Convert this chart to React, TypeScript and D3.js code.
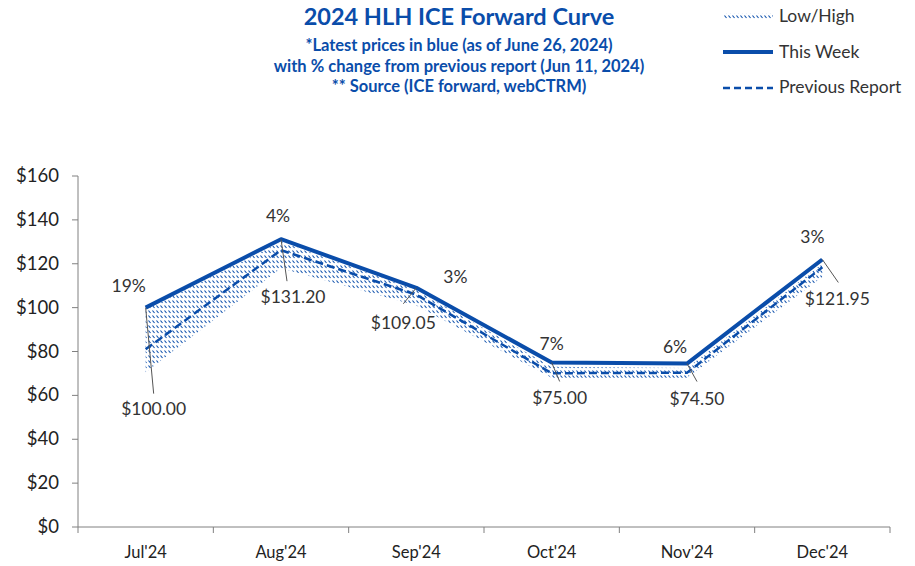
import React from "react";
import * as d3 from "d3";

const categories = ["Jul'24", "Aug'24", "Sep'24", "Oct'24", "Nov'24", "Dec'24"];
const thisWeek = [100, 131.2, 109.05, 75, 74.5, 121.95];
const previousReport = [81, 126.2, 105.9, 70.1, 70.3, 118.4];
const lowValues = [70.5, 118, 101, 68, 68, 114];
const highValues = [99, 130, 108, 73, 72.5, 120];
const pctLabels = ["19%", "4%", "3%", "7%", "6%", "3%"];
const priceLabels = ["$100.00", "$131.20", "$109.05", "$75.00", "$74.50", "$121.95"];
const yTicks = [0, 20, 40, 60, 80, 100, 120, 140, 160];

// label offsets relative to point [dx, dy] for pct and price, leader end
const pctOff = [[-17, -16], [-3, -17], [39, -5], [0, -12], [-12, -11], [-10, -16]];
const priceOff = [[8, 107], [12, 64], [-13, 41], [8, 42], [10, 41], [15, 46]];
const leaderEnd = [[8, 86], [6, 42], [-13, 16], [8, 19], [10, 18], [16, 23]];

const BLUE = "#0A4DAA";
const FONT = "Lato, 'Open Sans', sans-serif";

export default function App() {
  const W = 915, H = 566;
  const left = 78, right = 890, top = 176, bottom = 527;
  const x = d3.scaleBand<string>().domain(categories).range([left, right]);
  const y = d3.scaleLinear().domain([0, 160]).range([bottom, top]);
  const cx = (i: number) => (x(categories[i]) as number) + x.bandwidth() / 2;

  const line = d3.line<number>().x((_, i) => cx(i)).y((d) => y(d));
  const area = d3
    .area<number>()
    .x((_, i) => cx(i))
    .y0((_, i) => y(lowValues[i]))
    .y1((d) => y(d));

  return (
    <svg width={W} height={H} style={{ position: "absolute", left: 0, top: 0, background: "#fff" }} fontFamily={FONT}>
      <defs>
        <pattern id="hatch" width="4" height="5" patternUnits="userSpaceOnUse">
          <line x1="0.5" y1="0.5" x2="2.5" y2="3" stroke={BLUE} strokeWidth="1.1" />
        </pattern>
      </defs>
      <rect width={W} height={H} fill="#fff" />
      {/* Title */}
      <g fill={BLUE} fontWeight="bold" textAnchor="middle">
        <text x={459} y={25} fontSize={23.5}>2024 HLH ICE Forward Curve</text>
        <text x={459} y={51} fontSize={16.5}>*Latest prices in blue (as of June 26, 2024)</text>
        <text x={459} y={72} fontSize={16.5}>with % change from previous report (Jun 11, 2024)</text>
        <text x={459} y={92} fontSize={16.5}>** Source (ICE forward, webCTRM)</text>
      </g>
      {/* Legend */}
      <g fontSize={17.5} fill="#333">
        <rect x={723} y={13} width={50} height={6} fill="url(#hatch)" />
        <text x={779} y={22}>Low/High</text>
        <line x1={723} x2={773} y1={52} y2={52} stroke={BLUE} strokeWidth={4} />
        <text x={779} y={58}>This Week</text>
        <line x1={723} x2={773} y1={88} y2={88} stroke={BLUE} strokeWidth={2.5} strokeDasharray="7,4" />
        <text x={779} y={93}>Previous Report</text>
      </g>
      {/* Axes */}
      <g stroke="#808080" strokeWidth={1}>
        <line x1={left} x2={left} y1={top} y2={bottom} />
        {yTicks.map((t) => (
          <line key={t} x1={left - 6} x2={left} y1={y(t)} y2={y(t)} />
        ))}
        <line x1={left} x2={right} y1={bottom} y2={bottom} />
        {categories.concat(["end"]).map((c, i) => {
          const xx = left + i * x.bandwidth();
          return <line key={c} x1={xx} x2={xx} y1={bottom} y2={bottom + 6} />;
        })}
      </g>
      <g fontSize={18.5} fill="#222" textAnchor="end">
        {yTicks.map((t) => (
          <text key={t} x={59} y={y(t) + 6}>{"$" + t}</text>
        ))}
      </g>
      <g fontSize={16.5} fill="#222" textAnchor="middle">
        {categories.map((c, i) => (
          <text key={c} x={cx(i)} y={558}>{c}</text>
        ))}
      </g>
      {/* Band */}
      <path d={area(highValues) || ""} fill="url(#hatch)" />
      {/* Lines */}
      <path d={line(previousReport) || ""} fill="none" stroke={BLUE} strokeWidth={2.5} strokeDasharray="8,4" />
      <path d={line(thisWeek) || ""} fill="none" stroke={BLUE} strokeWidth={4} strokeLinejoin="round" />
      {/* Labels */}
      <g fontSize={17.5} fill="#333" textAnchor="middle">
        {thisWeek.map((v, i) => {
          const px = cx(i), py = y(v);
          return (
            <g key={i}>
              <line x1={px} y1={py} x2={px + leaderEnd[i][0]} y2={py + leaderEnd[i][1]} stroke="#555" strokeWidth={1} />
              <text x={px + pctOff[i][0]} y={py + pctOff[i][1]}>{pctLabels[i]}</text>
              <text x={px + priceOff[i][0]} y={py + priceOff[i][1]}>{priceLabels[i]}</text>
            </g>
          );
        })}
      </g>
    </svg>
  );
}
